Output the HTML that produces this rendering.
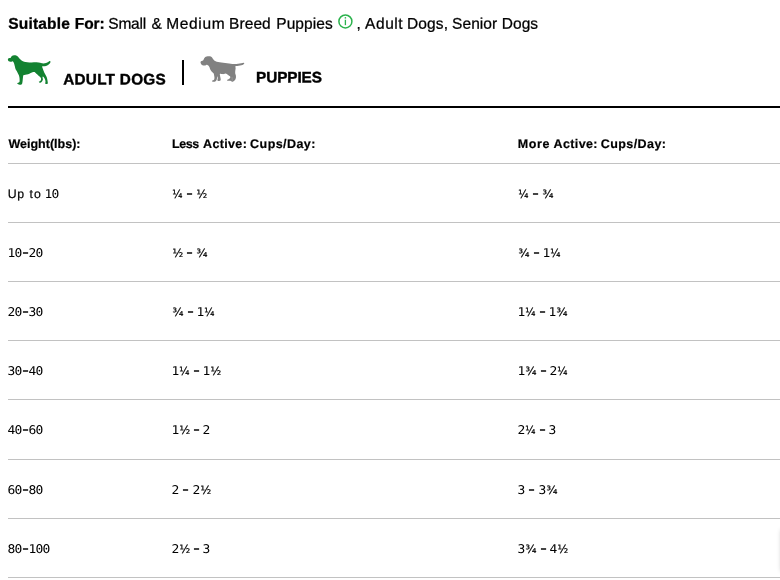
<!DOCTYPE html>
<html lang="en">
<head>
<meta charset="utf-8">
<title>Feeding Guide</title>
<style>
  html,body{margin:0;padding:0;background:#fff;}
  body{width:780px;height:580px;overflow:hidden;position:relative;color:#000;
       font-family:"Liberation Sans",sans-serif;}
  .w{position:absolute;white-space:nowrap;line-height:20px;text-rendering:geometricPrecision;}
  .b16{font-weight:700;font-size:15.5px;-webkit-text-stroke:.3px #000;}
  .r16{font-weight:400;font-size:15.5px;-webkit-text-stroke:.25px #000;}
  .b15{font-weight:700;font-size:15.3px;-webkit-text-stroke:.4px #000;}
  .b12{font-weight:700;font-size:12.5px;-webkit-text-stroke:.2px #000;}
  .r12{font-weight:400;font-size:12.3px;-webkit-text-stroke:.2px #000;}
  .info{position:absolute;left:337px;top:13px;width:17px;height:17px;}
  .sep{position:absolute;left:182px;top:60px;width:2px;height:25px;background:#000;}
  .rule{position:absolute;left:8px;right:0;top:106px;height:2px;background:#000;}
  .ln{position:absolute;left:8px;right:0;height:1px;background:#c2c2c2;}
  .c{position:absolute;white-space:nowrap;font-size:12px;line-height:20px;text-rendering:geometricPrecision;}
  .m{font-family:"DejaVu Sans Mono","Liberation Mono",monospace;font-size:12px;display:inline-block;width:7px;text-align:center;text-indent:-.12px;transform:scaleX(1.08);}
  .d{font-weight:700;transform:translateY(-.65px) scale(1.4,.95);}
  .f{display:inline-block;font-family:"DejaVu Sans Condensed","DejaVu Sans",sans-serif;font-size:11.4px;font-stretch:condensed;transform-origin:0 50%;-webkit-text-stroke:.22px #000;}
  .f0{width:10.7px;transform:translateX(.3px) scaleX(1.02);}
  .f1{width:10.8px;transform:translateX(.4px) scaleX(1.08);}
  .f2{width:11.6px;transform:translateX(.5px) scaleX(1.10);}
  .shade{position:absolute;left:782px;top:530px;width:20px;height:41px;box-shadow:0 0 5px rgba(0,0,0,.33);}
  .dog{position:absolute;}
  #page{position:absolute;left:0;top:0;width:780px;height:580px;will-change:transform;}
</style>
</head>
<body>
<div id="page">
<div class="suit"><span class="w b16" style="left:8px;top:14px;transform:translate(0.31px,0.65px) rotate(.03deg);letter-spacing:0.166px">Suitable</span> <span class="w b16" style="left:74px;top:14px;transform:translate(0.76px,0.65px) rotate(.03deg);letter-spacing:-0.041px">For:</span> <span class="w r16" style="left:108px;top:14px;transform:translate(0.30px,0.74px) rotate(.03deg);letter-spacing:-0.243px">Small</span> <span class="w r16" style="left:151px;top:14px;transform:translate(0.38px,0.74px) rotate(.03deg);letter-spacing:0.000px">&amp;</span> <span class="w r16" style="left:166px;top:14px;transform:translate(0.22px,0.74px) rotate(.03deg);letter-spacing:0.667px">Medium</span> <span class="w r16" style="left:229px;top:14px;transform:translate(0.02px,0.74px) rotate(.03deg);letter-spacing:0.088px">Breed</span> <span class="w r16" style="left:276px;top:14px;transform:translate(0.22px,0.74px) rotate(.03deg);letter-spacing:0.069px">Puppies</span>
<svg class="info" viewBox="0 0 17 17" aria-label="info"><g transform="translate(0.4,0.45)"><circle cx="8" cy="8" r="6.5" fill="none" stroke="#2bb24c" stroke-width="1.5"/><rect x="7.35" y="6.3" width="1.3" height="5.4" fill="#2bb24c"/><rect x="7.3" y="3.7" width="1.4" height="1.4" fill="#2bb24c"/></g></svg>
<span class="w r16" style="left:356px;top:14px;transform:translate(0.56px,0.74px) rotate(.03deg);letter-spacing:0.000px">,</span> <span class="w r16" style="left:365px;top:14px;transform:translate(0.05px,0.74px) rotate(.03deg);letter-spacing:0.565px">Adult</span> <span class="w r16" style="left:407px;top:14px;transform:translate(0.02px,0.74px) rotate(.03deg);letter-spacing:0.133px">Dogs,</span> <span class="w r16" style="left:452px;top:14px;transform:translate(0.10px,0.74px) rotate(.03deg);letter-spacing:0.053px">Senior</span> <span class="w r16" style="left:501px;top:14px;transform:translate(0.72px,0.74px) rotate(.03deg);letter-spacing:0.059px">Dogs</span></div>
<svg class="dog" style="left:5px;top:52px" width="50" height="36" viewBox="0 0 780 562"><path fill="#138231" d="M45.0 115.0C45.0 109.2 45.8 103.5 50.0 100.0C54.2 96.5 63.3 95.7 70.0 94.0C76.7 92.3 85.5 93.5 90.0 90.0C94.5 86.5 93.2 78.5 97.0 73.0C100.8 67.5 105.8 61.0 113.0 57.0C120.2 53.0 129.7 49.7 140.0 49.0C150.3 48.3 165.0 49.3 175.0 53.0C185.0 56.7 191.7 63.0 200.0 71.0C208.3 79.0 216.7 92.0 225.0 101.0C233.3 110.0 240.8 117.7 250.0 125.0C259.2 132.3 268.3 139.5 280.0 145.0C291.7 150.5 303.3 154.7 320.0 158.0C336.7 161.3 358.3 164.7 380.0 165.0C401.7 165.3 426.7 160.5 450.0 160.0C473.3 159.5 501.7 160.3 520.0 162.0C538.3 163.7 546.7 167.3 560.0 170.0C573.3 172.7 586.7 178.0 600.0 178.0C613.3 178.0 627.5 173.8 640.0 170.0C652.5 166.2 665.3 159.8 675.0 155.0C684.7 150.2 692.2 141.8 698.0 141.0C703.8 140.2 708.7 145.8 710.0 150.0C711.3 154.2 708.2 161.0 706.0 166.0C703.8 171.0 702.7 174.0 697.0 180.0C691.3 186.0 681.5 195.8 672.0 202.0C662.5 208.2 652.0 213.5 640.0 217.0C628.0 220.5 610.0 221.5 600.0 223.0C590.0 224.5 581.7 219.8 580.0 226.0C578.3 232.2 585.8 247.7 590.0 260.0C594.2 272.3 599.2 285.8 605.0 300.0C610.8 314.2 617.5 330.0 625.0 345.0C632.5 360.0 644.2 375.8 650.0 390.0C655.8 404.2 657.0 415.0 660.0 430.0C663.0 445.0 667.3 469.0 668.0 480.0C668.7 491.0 668.7 492.7 664.0 496.0C659.3 499.3 646.3 500.7 640.0 500.0C633.7 499.3 627.3 497.0 626.0 492.0C624.7 487.0 632.2 480.3 632.0 470.0C631.8 459.7 629.5 442.5 625.0 430.0C620.5 417.5 610.8 403.0 605.0 395.0C599.2 387.0 593.2 381.2 590.0 382.0C586.8 382.8 585.7 392.0 586.0 400.0C586.3 408.0 593.0 420.8 592.0 430.0C591.0 439.2 585.3 447.5 580.0 455.0C574.7 462.5 567.3 471.2 560.0 475.0C552.7 478.8 541.3 479.5 536.0 478.0C530.7 476.5 526.5 469.8 528.0 466.0C529.5 462.2 539.7 459.3 545.0 455.0C550.3 450.7 557.2 447.5 560.0 440.0C562.8 432.5 564.5 419.2 562.0 410.0C559.5 400.8 552.0 392.5 545.0 385.0C538.0 377.5 529.2 372.5 520.0 365.0C510.8 357.5 498.3 347.5 490.0 340.0C481.7 332.5 475.8 324.5 470.0 320.0C464.2 315.5 463.3 313.2 455.0 313.0C446.7 312.8 432.5 314.8 420.0 319.0C407.5 323.2 393.3 332.3 380.0 338.0C366.7 343.7 353.3 349.7 340.0 353.0C326.7 356.3 309.2 355.7 300.0 358.0C290.8 360.3 288.3 360.0 285.0 367.0C281.7 374.0 281.7 386.2 280.0 400.0C278.3 413.8 277.0 435.0 275.0 450.0C273.0 465.0 271.3 480.3 268.0 490.0C264.7 499.7 261.3 504.3 255.0 508.0C248.7 511.7 239.2 513.3 230.0 512.0C220.8 510.7 206.7 503.7 200.0 500.0C193.3 496.3 189.2 493.3 190.0 490.0C190.8 486.7 199.2 483.3 205.0 480.0C210.8 476.7 221.2 476.7 225.0 470.0C228.8 463.3 228.0 451.7 228.0 440.0C228.0 428.3 227.2 413.3 225.0 400.0C222.8 386.7 219.2 371.7 215.0 360.0C210.8 348.3 205.0 340.0 200.0 330.0C195.0 320.0 190.8 310.0 185.0 300.0C179.2 290.0 170.0 281.7 165.0 270.0C160.0 258.3 158.3 243.3 155.0 230.0C151.7 216.7 148.3 201.3 145.0 190.0C141.7 178.7 139.2 169.3 135.0 162.0C130.8 154.7 125.8 147.7 120.0 146.0C114.2 144.3 108.3 151.7 100.0 152.0C91.7 152.3 78.3 150.8 70.0 148.0C61.7 145.2 54.2 140.5 50.0 135.0C45.8 129.5 45.0 120.8 45.0 115.0Z"/></svg>
<svg class="dog" style="left:197px;top:52px" width="50" height="36" viewBox="0 0 780 562"><path fill="#818181" d="M55.0 160.0C55.8 155.5 57.0 149.7 62.0 146.0C67.0 142.3 78.7 141.5 85.0 138.0C91.3 134.5 96.2 130.5 100.0 125.0C103.8 119.5 103.8 112.0 108.0 105.0C112.2 98.0 118.0 88.7 125.0 83.0C132.0 77.3 140.0 73.8 150.0 71.0C160.0 68.2 174.2 65.8 185.0 66.0C195.8 66.2 206.2 68.0 215.0 72.0C223.8 76.0 232.2 83.7 238.0 90.0C243.8 96.3 245.5 103.7 250.0 110.0C254.5 116.3 258.3 122.2 265.0 128.0C271.7 133.8 279.2 140.0 290.0 145.0C300.8 150.0 315.0 154.7 330.0 158.0C345.0 161.3 361.7 162.7 380.0 165.0C398.3 167.3 420.0 169.5 440.0 172.0C460.0 174.5 481.7 177.3 500.0 180.0C518.3 182.7 535.0 186.7 550.0 188.0C565.0 189.3 575.0 189.0 590.0 188.0C605.0 187.0 623.3 184.2 640.0 182.0C656.7 179.8 675.8 177.2 690.0 175.0C704.2 172.8 716.8 168.8 725.0 169.0C733.2 169.2 739.2 171.8 739.0 176.0C738.8 180.2 731.8 188.8 724.0 194.0C716.2 199.2 704.3 203.3 692.0 207.0C679.7 210.7 663.3 213.8 650.0 216.0C636.7 218.2 620.8 218.2 612.0 220.0C603.2 221.8 598.5 222.0 597.0 227.0C595.5 232.0 602.8 239.5 603.0 250.0C603.2 260.5 599.2 276.7 598.0 290.0C596.8 303.3 594.8 318.3 596.0 330.0C597.2 341.7 603.0 349.2 605.0 360.0C607.0 370.8 608.8 384.2 608.0 395.0C607.2 405.8 603.8 416.7 600.0 425.0C596.2 433.3 590.8 439.2 585.0 445.0C579.2 450.8 572.2 457.0 565.0 460.0C557.8 463.0 547.5 464.3 542.0 463.0C536.5 461.7 539.0 454.2 532.0 452.0C525.0 449.8 510.3 451.5 500.0 450.0C489.7 448.5 473.3 446.3 470.0 443.0C466.7 439.7 474.2 434.2 480.0 430.0C485.8 425.8 498.3 423.0 505.0 418.0C511.7 413.0 518.3 406.3 520.0 400.0C521.7 393.7 519.2 385.8 515.0 380.0C510.8 374.2 501.7 370.0 495.0 365.0C488.3 360.0 482.5 355.0 475.0 350.0C467.5 345.0 459.2 335.8 450.0 335.0C440.8 334.2 430.0 343.3 420.0 345.0C410.0 346.7 398.3 345.8 390.0 345.0C381.7 344.2 375.7 339.7 370.0 340.0C364.3 340.3 357.7 342.0 356.0 347.0C354.3 352.0 358.5 361.2 360.0 370.0C361.5 378.8 363.3 390.0 365.0 400.0C366.7 410.0 369.8 422.3 370.0 430.0C370.2 437.7 370.2 442.3 366.0 446.0C361.8 449.7 351.7 451.7 345.0 452.0C338.3 452.3 330.7 450.0 326.0 448.0C321.3 446.0 317.7 444.7 317.0 440.0C316.3 435.3 320.8 426.7 322.0 420.0C323.2 413.3 324.3 406.8 324.0 400.0C323.7 393.2 321.7 379.0 320.0 379.0C318.3 379.0 315.8 392.3 314.0 400.0C312.2 407.7 311.3 417.5 309.0 425.0C306.7 432.5 304.0 439.2 300.0 445.0C296.0 450.8 291.7 456.5 285.0 460.0C278.3 463.5 267.8 465.7 260.0 466.0C252.2 466.3 242.2 464.7 238.0 462.0C233.8 459.3 233.0 453.7 235.0 450.0C237.0 446.3 244.5 443.3 250.0 440.0C255.5 436.7 264.3 436.7 268.0 430.0C271.7 423.3 272.0 410.0 272.0 400.0C272.0 390.0 269.7 380.0 268.0 370.0C266.3 360.0 265.8 348.3 262.0 340.0C258.2 331.7 251.2 326.7 245.0 320.0C238.8 313.3 231.7 308.3 225.0 300.0C218.3 291.7 210.0 280.0 205.0 270.0C200.0 260.0 199.2 249.2 195.0 240.0C190.8 230.8 185.8 221.5 180.0 215.0C174.2 208.5 166.7 202.7 160.0 201.0C153.3 199.3 148.3 203.5 140.0 205.0C131.7 206.5 119.2 210.0 110.0 210.0C100.8 210.0 92.5 208.3 85.0 205.0C77.5 201.7 69.7 195.3 65.0 190.0C60.3 184.7 58.7 178.0 57.0 173.0C55.3 168.0 54.2 164.5 55.0 160.0Z"/><path d="M547 398 L550 442" stroke="#fff" stroke-opacity=".6" stroke-width="4.5" stroke-linecap="round" fill="none"/></svg>

<div class="tabs"><span class="w b15" style="left:63px;top:70px;transform:translate(0.14px,0.60px) rotate(.03deg);letter-spacing:0.284px">ADULT</span> <span class="w b15" style="left:119px;top:70px;transform:translate(0.78px,0.60px) rotate(.03deg);letter-spacing:0.306px">DOGS</span> <span class="sep"></span> <span class="w b15" style="left:256px;top:68px;transform:translate(0.08px,0.40px) rotate(.03deg);letter-spacing:-0.072px">PUPPIES</span></div>
<div class="rule"></div>
<div class="thead"><span class="w b12" style="left:8px;top:134px;transform:translate(0.40px,0.00px) rotate(.03deg);letter-spacing:0.010px">Weight(lbs):</span> <span class="w b12" style="left:171px;top:134px;transform:translate(0.96px,0.00px) rotate(.03deg);letter-spacing:-0.441px">Less</span> <span class="w b12" style="left:203px;top:134px;transform:translate(0.10px,0.00px) rotate(.03deg);letter-spacing:0.342px">Active:</span> <span class="w b12" style="left:250px;top:134px;transform:translate(0.12px,0.00px) rotate(.03deg);letter-spacing:0.436px">Cups/Day:</span> <span class="w b12" style="left:517px;top:134px;transform:translate(0.76px,0.00px) rotate(.03deg);letter-spacing:0.597px">More</span> <span class="w b12" style="left:553px;top:134px;transform:translate(0.60px,0.00px) rotate(.03deg);letter-spacing:0.358px">Active:</span> <span class="w b12" style="left:600px;top:134px;transform:translate(0.72px,0.00px) rotate(.03deg);letter-spacing:0.436px">Cups/Day:</span></div>
<div class="ln" style="top:163px"></div>
<div class="ln" style="top:222px"></div>
<div class="ln" style="top:281px"></div>
<div class="ln" style="top:340px"></div>
<div class="ln" style="top:399px"></div>
<div class="ln" style="top:459px"></div>
<div class="ln" style="top:518px"></div>
<div class="ln" style="top:577px"></div>
<div class="tr"><span class="w r12" style="left:7px;top:183px;transform:translate(0.75px,0.92px) rotate(.03deg);letter-spacing:0.671px">Up</span> <span class="w r12" style="left:29px;top:183px;transform:translate(0.55px,0.92px) rotate(.03deg);letter-spacing:1.000px">to</span> <span class="c" style="left:45px;top:184px;transform:translate(0.00px,0.00px) rotate(.03deg)"><span class="m">1</span><span class="m">0</span></span> <span class="c" style="left:172px;top:184px;transform:translate(0.00px,0.00px) rotate(.03deg)"><span class="f f0">¼</span> <span class="m d">-</span> <span class="f f1">½</span></span> <span class="c" style="left:518px;top:184px;transform:translate(0.00px,0.00px) rotate(.03deg)"><span class="f f0">¼</span> <span class="m d">-</span> <span class="f f2">¾</span></span></div>
<div class="tr"><span class="c" style="left:8px;top:243px;transform:translate(0.00px,0.00px) rotate(.03deg)"><span class="m">1</span><span class="m">0</span><span class="m d">-</span><span class="m">2</span><span class="m">0</span></span> <span class="c" style="left:172px;top:243px;transform:translate(0.00px,0.00px) rotate(.03deg)"><span class="f f1">½</span> <span class="m d">-</span> <span class="f f2">¾</span></span> <span class="c" style="left:518px;top:243px;transform:translate(0.00px,0.00px) rotate(.03deg)"><span class="f f2">¾</span> <span class="m d">-</span> <span class="m">1</span><span class="f f0">¼</span></span></div>
<div class="tr"><span class="c" style="left:8px;top:302px;transform:translate(0.00px,0.00px) rotate(.03deg)"><span class="m">2</span><span class="m">0</span><span class="m d">-</span><span class="m">3</span><span class="m">0</span></span> <span class="c" style="left:172px;top:302px;transform:translate(0.00px,0.00px) rotate(.03deg)"><span class="f f2">¾</span> <span class="m d">-</span> <span class="m">1</span><span class="f f0">¼</span></span> <span class="c" style="left:518px;top:302px;transform:translate(0.00px,0.00px) rotate(.03deg)"><span class="m">1</span><span class="f f0">¼</span> <span class="m d">-</span> <span class="m">1</span><span class="f f2">¾</span></span></div>
<div class="tr"><span class="c" style="left:8px;top:361px;transform:translate(0.00px,0.00px) rotate(.03deg)"><span class="m">3</span><span class="m">0</span><span class="m d">-</span><span class="m">4</span><span class="m">0</span></span> <span class="c" style="left:172px;top:361px;transform:translate(0.00px,0.00px) rotate(.03deg)"><span class="m">1</span><span class="f f0">¼</span> <span class="m d">-</span> <span class="m">1</span><span class="f f1">½</span></span> <span class="c" style="left:518px;top:361px;transform:translate(0.00px,0.00px) rotate(.03deg)"><span class="m">1</span><span class="f f2">¾</span> <span class="m d">-</span> <span class="m">2</span><span class="f f0">¼</span></span></div>
<div class="tr"><span class="c" style="left:8px;top:420px;transform:translate(0.00px,0.00px) rotate(.03deg)"><span class="m">4</span><span class="m">0</span><span class="m d">-</span><span class="m">6</span><span class="m">0</span></span> <span class="c" style="left:172px;top:420px;transform:translate(0.00px,0.00px) rotate(.03deg)"><span class="m">1</span><span class="f f1">½</span> <span class="m d">-</span> <span class="m">2</span></span> <span class="c" style="left:518px;top:420px;transform:translate(0.00px,0.00px) rotate(.03deg)"><span class="m">2</span><span class="f f0">¼</span> <span class="m d">-</span> <span class="m">3</span></span></div>
<div class="tr"><span class="c" style="left:8px;top:480px;transform:translate(0.00px,0.00px) rotate(.03deg)"><span class="m">6</span><span class="m">0</span><span class="m d">-</span><span class="m">8</span><span class="m">0</span></span> <span class="c" style="left:172px;top:480px;transform:translate(0.00px,0.00px) rotate(.03deg)"><span class="m">2</span> <span class="m d">-</span> <span class="m">2</span><span class="f f1">½</span></span> <span class="c" style="left:518px;top:480px;transform:translate(0.00px,0.00px) rotate(.03deg)"><span class="m">3</span> <span class="m d">-</span> <span class="m">3</span><span class="f f2">¾</span></span></div>
<div class="tr"><span class="c" style="left:8px;top:539px;transform:translate(0.00px,0.00px) rotate(.03deg)"><span class="m">8</span><span class="m">0</span><span class="m d">-</span><span class="m">1</span><span class="m">0</span><span class="m">0</span></span> <span class="c" style="left:172px;top:539px;transform:translate(0.00px,0.00px) rotate(.03deg)"><span class="m">2</span><span class="f f1">½</span> <span class="m d">-</span> <span class="m">3</span></span> <span class="c" style="left:518px;top:539px;transform:translate(0.00px,0.00px) rotate(.03deg)"><span class="m">3</span><span class="f f2">¾</span> <span class="m d">-</span> <span class="m">4</span><span class="f f1">½</span></span></div>
<div class="shade"></div>
</div>
</body>
</html>
